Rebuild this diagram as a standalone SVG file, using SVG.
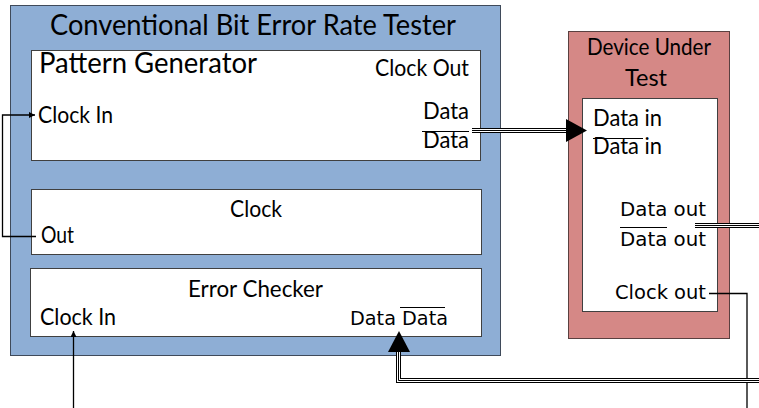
<svg xmlns="http://www.w3.org/2000/svg" width="759" height="408" viewBox="0 0 759 408">
<defs>
<marker id="small" viewBox="0 0 6 6" refX="6" refY="3" markerWidth="6" markerHeight="6" markerUnits="userSpaceOnUse" orient="auto">
<path d="M0,0 L6,3 L0,6 Z" fill="#000"/>
</marker>
</defs>
<style>
.cal{font-family:Lato,"Open Sans","Liberation Sans",sans-serif;fill:#000}
.dv{font-family:"DejaVu Sans",Verdana,sans-serif;fill:#000}
.box{fill:#fff;stroke:#404040;stroke-width:1}
.outer{fill:#8EAED5;stroke:#3F4A5A;stroke-width:1}
.dut{fill:#D58886;stroke:#5A4040;stroke-width:1}
.thin{fill:none;stroke:#000;stroke-width:1.3}
.b1{fill:none;stroke:#000;stroke-width:5}
.b2{fill:none;stroke:#fff;stroke-width:3}
.b3{fill:none;stroke:#000;stroke-width:1}
.ov{stroke:#000;stroke-width:1}
</style>
<g id="bert">
<rect class="outer" x="10.5" y="5.5" width="490" height="350"/>
<text class="cal" x="50" y="35" font-size="28" textLength="406" lengthAdjust="spacingAndGlyphs">Conventional Bit Error Rate Tester</text>
</g>
<g id="pattern-generator">
<rect class="box" x="31.5" y="50.5" width="449" height="110"/>
<text class="cal" x="39" y="73" font-size="28" textLength="218" lengthAdjust="spacingAndGlyphs">Pattern Generator</text>
<text class="cal" x="375" y="76" font-size="23" textLength="94" lengthAdjust="spacingAndGlyphs">Clock Out</text>
<text class="cal" x="38" y="123" font-size="23" textLength="75" lengthAdjust="spacingAndGlyphs">Clock In</text>
<text class="cal" x="423" y="119" font-size="23" textLength="46" lengthAdjust="spacingAndGlyphs">Data</text>
<line class="ov" x1="422" y1="131.5" x2="469" y2="131.5"/>
<text class="cal" x="423" y="148" font-size="23" textLength="46" lengthAdjust="spacingAndGlyphs">Data</text>
</g>
<g id="clock">
<rect class="box" x="31.5" y="189.5" width="450" height="65"/>
<text class="cal" x="230" y="217" font-size="23" textLength="52" lengthAdjust="spacingAndGlyphs">Clock</text>
<text class="cal" x="41" y="243" font-size="23" textLength="33" lengthAdjust="spacingAndGlyphs">Out</text>
</g>
<g id="error-checker">
<rect class="box" x="30.5" y="268.5" width="451" height="68"/>
<text class="cal" x="188" y="297" font-size="23" textLength="135" lengthAdjust="spacingAndGlyphs">Error Checker</text>
<text class="cal" x="40" y="325" font-size="23" textLength="76" lengthAdjust="spacingAndGlyphs">Clock In</text>
<text class="dv" x="350" y="325" font-size="20" textLength="98" lengthAdjust="spacingAndGlyphs">Data Data</text>
<line class="ov" x1="400" y1="307.5" x2="445" y2="307.5"/>
</g>
<g id="dut">
<rect class="dut" x="568.5" y="31.5" width="161" height="307"/>
<text class="cal" x="587" y="55" font-size="23" textLength="124" lengthAdjust="spacingAndGlyphs">Device Under</text>
<text class="cal" x="625" y="86" font-size="23" textLength="42" lengthAdjust="spacingAndGlyphs">Test</text>
<rect class="box" x="582.5" y="98.5" width="135" height="213"/>
<text class="cal" x="593" y="126" font-size="23" textLength="69" lengthAdjust="spacingAndGlyphs">Data in</text>
<line class="ov" x1="593" y1="138.5" x2="643" y2="138.5"/>
<text class="cal" x="593" y="154" font-size="23" textLength="69" lengthAdjust="spacingAndGlyphs">Data in</text>
<text class="dv" x="620" y="216" font-size="20" textLength="86" lengthAdjust="spacingAndGlyphs">Data out</text>
<line class="ov" x1="620" y1="227.5" x2="667" y2="227.5"/>
<text class="dv" x="620" y="246" font-size="20" textLength="86" lengthAdjust="spacingAndGlyphs">Data out</text>
<text class="dv" x="615" y="299" font-size="20" textLength="91" lengthAdjust="spacingAndGlyphs">Clock out</text>
</g>
<g id="connectors">
<path class="thin" d="M36,236.5 H2.5 V115 H35" marker-end="url(#small)"/>
<path class="b1" d="M472,130.5 H568"/>
<path class="b2" d="M472,130.5 H568"/>
<path class="b3" d="M472,130.5 H568"/>
<path d="M566,119 L587,130.5 L566,142 Z" fill="#000"/>
<path class="b1" d="M695,225.5 H759"/>
<path class="b2" d="M695,225.5 H759"/>
<path class="b3" d="M695,225.5 H759"/>
<path class="thin" d="M709,293.5 H747 V408"/>
<path class="b1" d="M759,380.5 H398.5 V350"/>
<path class="b2" d="M759,380.5 H398.5 V350"/>
<path class="b3" d="M759,380.5 H398.5 V350"/>
<path d="M388,352 L399,331 L410,352 Z" fill="#000"/>
<path class="thin" d="M73.5,408 V331" marker-end="url(#small)"/>
</g>
</svg>
